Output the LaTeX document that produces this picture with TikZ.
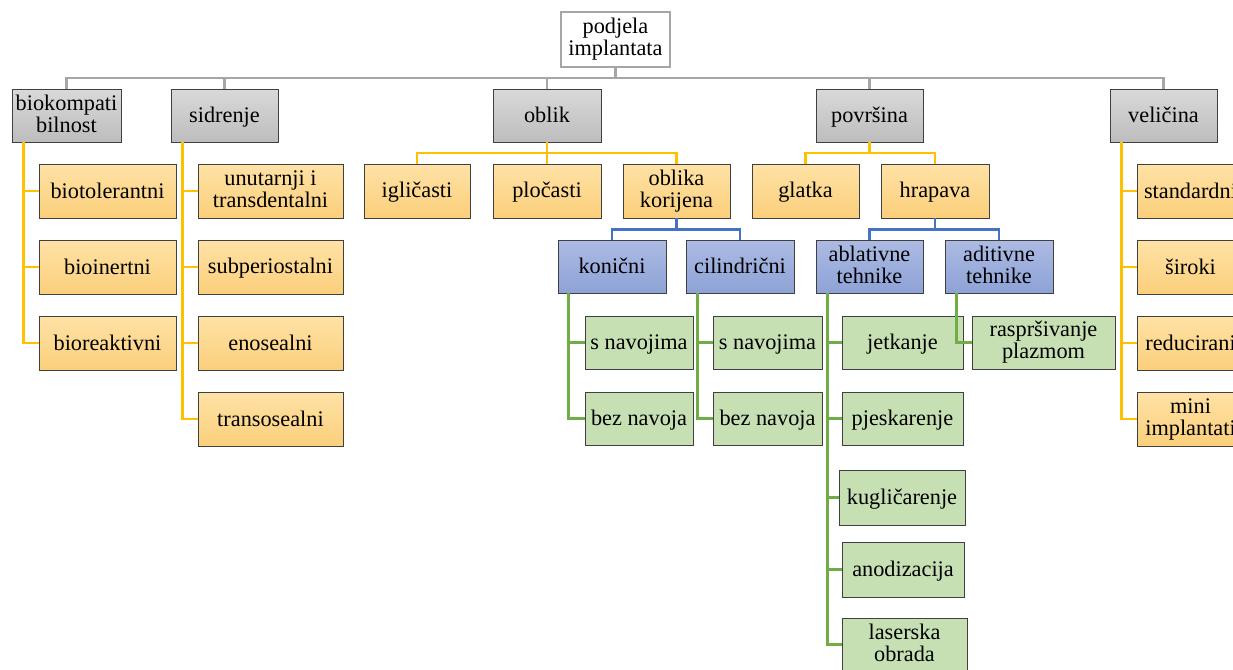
\documentclass[tikz,border=0pt]{standalone}
\usepackage{fontspec}
\setmainfont{Liberation Serif}
\newcommand\mystrut{\rule[-4pt]{0pt}{22pt}}
\definecolor{bordc}{HTML}{404040}
\definecolor{grayT}{HTML}{D9D9D9}
\definecolor{grayB}{HTML}{BDBDBD}
\definecolor{orT}{HTML}{FFE2A6}
\definecolor{orB}{HTML}{FBCF7B}
\definecolor{blT}{HTML}{ADBBE3}
\definecolor{blB}{HTML}{8DA2D6}
\definecolor{grF}{HTML}{C6E0B4}
\definecolor{gline}{HTML}{A6A6A6}
\definecolor{oline}{HTML}{FFC000}
\definecolor{bline}{HTML}{4472C4}
\definecolor{vline}{HTML}{70AD47}
\tikzset{
  box/.style={draw=bordc, line width=0.9pt, inner sep=0pt, align=center,
    font=\fontsize{22.3}{22}\selectfont, minimum height=54pt,
    execute at begin node=\mystrut, execute at end node=\mystrut},
  rootbox/.style={box, draw=gline, line width=2.4pt, fill=white},
  gbox/.style={box, top color=grayT, bottom color=grayB},
  obox/.style={box, top color=orT, bottom color=orB},
  bbox/.style={box, top color=blT, bottom color=blB},
  vbox/.style={box, fill=grF},
  glink/.style={draw=gline, line width=2.2pt},
  olink/.style={draw=oline, line width=2.6pt},
  blink/.style={draw=bline, line width=2.6pt},
  vlink/.style={draw=vline, line width=2.6pt},
}
\begin{document}
\begin{tikzpicture}[x=1pt,y=-1pt]
\useasboundingbox (0,0) rectangle (1233,669);
\clip (0,0) rectangle (1233,669);
\fill[white] (0,0) rectangle (1233,669);

% ---------- nodes ----------
\node[rootbox, minimum width=109pt, minimum height=55pt] (root) at (615.5,39.5) {podjela\\implantata};

\node[gbox, minimum width=109pt, minimum height=53pt] (bio) at (66.5,115.5) {biokompati\\bilnost};
\node[gbox, minimum width=107pt, minimum height=53pt] (sid) at (224.5,115.5) {sidrenje};
\node[gbox, minimum width=108pt, minimum height=53pt] (obl) at (547,115.5) {oblik};
\node[gbox, minimum width=107pt, minimum height=53pt] (pov) at (869.5,115.5) {površina};
\node[gbox, minimum width=107pt, minimum height=53pt] (vel) at (1163.5,115.5) {veličina};

% biokompatibilnost
\node[obox, minimum width=137pt] (bt) at (107.5,191) {biotolerantni};
\node[obox, minimum width=137pt] (bi) at (107.5,267) {bioinertni};
\node[obox, minimum width=137pt] (br) at (107.5,343) {bioreaktivni};
% sidrenje
\node[obox, minimum width=145pt] (ut) at (270.5,191) {unutarnji i\\transdentalni};
\node[obox, minimum width=145pt] (sp) at (270.5,267) {subperiostalni};
\node[obox, minimum width=145pt] (en) at (270.5,343) {enosealni};
\node[obox, minimum width=145pt] (ts) at (270.5,419) {transosealni};
% oblik
\node[obox, minimum width=106pt] (igl) at (417,191) {igličasti};
\node[obox, minimum width=108pt] (plo) at (547,191) {pločasti};
\node[obox, minimum width=107pt] (okr) at (676.5,191) {oblika\\korijena};
% povrsina
\node[obox, minimum width=107pt] (gla) at (805.5,191) {glatka};
\node[obox, minimum width=108pt] (hra) at (935,191) {hrapava};
% velicina
\node[obox, minimum width=107pt] (st) at (1190.5,191) {standardni};
\node[obox, minimum width=107pt] (si) at (1190.5,267) {široki};
\node[obox, minimum width=107pt] (re) at (1190.5,343) {reducirani};
\node[obox, minimum width=107pt] (mi) at (1190.5,419) {mini\\implantati};

% blue level
\node[bbox, minimum width=108pt, minimum height=53pt] (kon) at (612,266.5) {konični};
\node[bbox, minimum width=108pt, minimum height=53pt] (cil) at (740,266.5) {cilindrični};
\node[bbox, minimum width=107pt, minimum height=53pt] (abl) at (869.5,266.5) {ablativne\\tehnike};
\node[bbox, minimum width=108pt, minimum height=53pt] (adi) at (999,266.5) {aditivne\\tehnike};

% green level
\node[vbox, minimum width=108pt, minimum height=53pt] (ksn) at (639,342.5) {s navojima};
\node[vbox, minimum width=108pt, minimum height=53pt] (kbn) at (639,418.5) {bez navoja};
\node[vbox, minimum width=109pt, minimum height=53pt] (csn) at (767.5,342.5) {s navojima};
\node[vbox, minimum width=109pt, minimum height=53pt] (cbn) at (767.5,418.5) {bez navoja};
\node[vbox, minimum width=121pt, minimum height=53pt] (jet) at (902.5,342.5) {jetkanje};
\node[vbox, minimum width=121pt, minimum height=53pt] (pje) at (902.5,418.5) {pjeskarenje};
\node[vbox, minimum width=126pt, minimum height=55pt] (kug) at (902,497.5) {kugličarenje};
\node[vbox, minimum width=122pt, minimum height=55pt] (ano) at (903,569.5) {anodizacija};
\node[vbox, minimum width=125pt, minimum height=53pt] (las) at (904.5,644.5) {laserska\\obrada};
\node[vbox, minimum width=143pt, minimum height=53pt] (ras) at (1043.5,342.5) {raspršivanje\\plazmom};

% ---------- connectors ----------
\coordinate (gbus) at (615.5,78);
\draw[glink] (root.south) -- (gbus);
\draw[glink] (bio.north) |- (gbus) -| (vel.north);
\draw[glink] (sid.north) -- (sid.north |- gbus);
\draw[glink] (obl.north) -- (obl.north |- gbus);
\draw[glink] (pov.north) -- (pov.north |- gbus);

% bio
\coordinate (bioL) at ([xshift=12pt]bio.south west);
\foreach \c in {bt,bi,br} \draw[olink] (bioL) |- (\c.west);
% sid
\coordinate (sidL) at ([xshift=12pt]sid.south west);
\foreach \c in {ut,sp,en,ts} \draw[olink] (sidL) |- (\c.west);
% vel
\coordinate (velL) at ([xshift=12pt]vel.south west);
\foreach \c in {st,si,re,mi} \draw[olink] (velL) |- (\c.west);
% oblik
\coordinate (oblbus) at (547,153);
\draw[olink] (obl.south) -- (oblbus);
\draw[olink] (igl.north) |- (oblbus) -| (okr.north);
\draw[olink] (plo.north) -- (oblbus);
% povrsina
\coordinate (povbus) at (869.5,153);
\draw[olink] (pov.south) -- (povbus);
\draw[olink] (gla.north) |- (povbus) -| (hra.north);
% oblika korijena
\coordinate (okrbus) at (676.5,229.5);
\draw[blink] (okr.south) -- (okrbus);
\draw[blink] (kon.north) |- (okrbus) -| (cil.north);
% hrapava
\coordinate (hrabus) at (935,229.5);
\draw[blink] (hra.south) -- (hrabus);
\draw[blink] (abl.north) |- (hrabus) -| (adi.north);
% green
\coordinate (konL) at ([xshift=11pt]kon.south west);
\foreach \c in {ksn,kbn} \draw[vlink] (konL) |- (\c.west);
\coordinate (cilL) at ([xshift=12pt]cil.south west);
\foreach \c in {csn,cbn} \draw[vlink] (cilL) |- (\c.west);
\coordinate (ablL) at ([xshift=12pt]abl.south west);
\foreach \c in {jet,pje,kug,ano,las} \draw[vlink] (ablL) |- (\c.west);
\coordinate (adiL) at ([xshift=12pt]adi.south west);
\draw[vlink] (adiL) |- (ras.west);
\end{tikzpicture}
\end{document}
